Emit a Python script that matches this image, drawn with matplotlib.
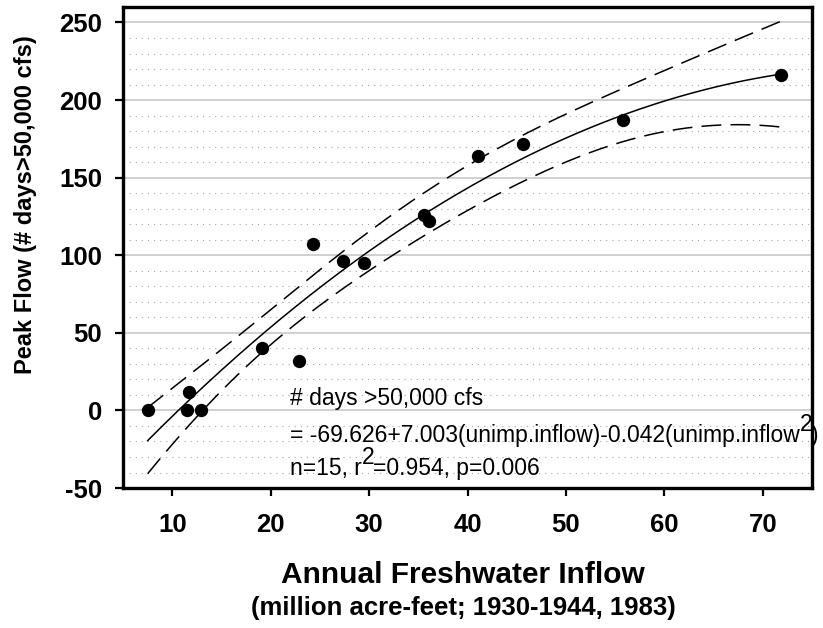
import numpy as np
import matplotlib
matplotlib.use("Agg")
import matplotlib.pyplot as plt
from matplotlib.ticker import MultipleLocator

plt.rcParams["font.family"] = ["Liberation Sans", "DejaVu Sans"]

# Annual unimpaired freshwater inflow (million acre-feet) vs. days above 50,000 cfs
inflow = [7.5, 11.7, 11.5, 12.9, 19.1, 22.9, 24.3, 27.3, 29.5, 35.6, 36.1, 41.1, 45.6, 55.8, 71.9]
peak_days = [0, 12, 0, 0, 40, 32, 107, 96, 95, 126, 122, 164, 172, 187, 216]

# Quadratic regression coefficients (intercept, linear, quadratic)
coef = [-69.626, 7.003, -0.042]
t_crit = 2.179  # two-sided 95%, 12 degrees of freedom

x_ticks = [10, 20, 30, 40, 50, 60, 70]
y_ticks = [-50, 0, 50, 100, 150, 200, 250]

x = np.asarray(inflow, dtype=float)
y = np.asarray(peak_days, dtype=float)


def quad(v):
    return coef[0] + coef[1] * v + coef[2] * v ** 2


# Confidence band for the mean response
X = np.column_stack([np.ones_like(x), x, x ** 2])
resid = y - quad(x)
s2 = np.sum(resid ** 2) / (len(x) - 3)
XtX_inv = np.linalg.inv(X.T @ X)
xs = np.linspace(x.min(), x.max(), 300)
Xs = np.column_stack([np.ones_like(xs), xs, xs ** 2])
se = np.sqrt(s2 * np.einsum("ij,jk,ik->i", Xs, XtX_inv, Xs))
fit = quad(xs)
upper = fit + t_crit * se
lower = fit - t_crit * se

fig = plt.figure(figsize=(8.23, 6.28), dpi=100)
ax = fig.add_axes([0.1495, 0.2229, 0.8371, 0.766])

ax.set_xlim(5, 75)
ax.set_ylim(-50, 260)

# Horizontal grid: solid at labelled values, dotted every 10
ax.yaxis.set_major_locator(plt.FixedLocator(y_ticks))
ax.yaxis.set_minor_locator(MultipleLocator(10))
ax.grid(axis="y", which="major", color="#c8c8c8", lw=1.2, zorder=0)
ax.grid(axis="y", which="minor", color="#a8a8a8", lw=0.8,
        linestyle=(0, (1, 4.5)), zorder=0)
ax.set_axisbelow(True)

ax.plot(xs, fit, color="black", lw=1.1, zorder=3)
ax.plot(xs, upper, color="black", lw=1.1, linestyle=(0, (13, 6)), zorder=3)
ax.plot(xs, lower, color="black", lw=1.1, linestyle=(0, (13, 6)), zorder=3)
ax.scatter(x, y, s=92, color="black", zorder=4, linewidths=0)

ax.set_xticks(x_ticks)
ax.set_xticklabels([str(v) for v in x_ticks])
ax.set_yticklabels([str(v) for v in y_ticks])
ax.tick_params(axis="both", which="major", direction="out", length=6,
               width=1.6, labelsize=18.5, color="black")
ax.tick_params(axis="x", pad=12)
ax.tick_params(axis="y", pad=9)
ax.tick_params(which="minor", length=0)
for lab in ax.get_xticklabels() + ax.get_yticklabels():
    lab.set_fontweight("bold")

for sp in ax.spines.values():
    sp.set_linewidth(2.4)
    sp.set_color("black")
    sp.set_zorder(5)

# Regression annotation
fs = 16.5
ax.text(22.0, 7.7, "# days >50,000 cfs", fontsize=fs, va="center", ha="left", zorder=2)

eq = ax.text(22.0, -16.1, "= -69.626+7.003(unimp.inflow)-0.042(unimp.inflow",
             fontsize=fs, va="center", ha="left", zorder=2)
sup1 = ax.annotate("2", xy=(1, 0.5), xycoords=eq, xytext=(-0.5, 7.5),
                   textcoords="offset points", fontsize=fs, va="center",
                   ha="left", zorder=2, annotation_clip=False)
ax.annotate(")", xy=(1, 0.5), xycoords=sup1, xytext=(-0.5, -7.5),
            textcoords="offset points", fontsize=fs, va="center",
            ha="left", zorder=2, annotation_clip=False)

st = ax.text(22.0, -37.3, "n=15, r", fontsize=fs, va="center", ha="left", zorder=2)
sup2 = ax.annotate("2", xy=(1, 0.5), xycoords=st, xytext=(-0.5, 7.5),
                   textcoords="offset points", fontsize=fs, va="center",
                   ha="left", zorder=2, annotation_clip=False)
ax.annotate("=0.954, p=0.006", xy=(1, 0.5), xycoords=sup2, xytext=(-0.5, -7.5),
            textcoords="offset points", fontsize=fs, va="center",
            ha="left", zorder=2, annotation_clip=False)

# Axis titles
fig.text(0.5626, 0.0844, "Annual Freshwater Inflow", fontsize=21.5,
         fontweight="bold", ha="center", va="center")
fig.text(0.5626, 0.0318, "(million acre-feet; 1930-1944, 1983)", fontsize=18.5,
         fontweight="bold", ha="center", va="center")
fig.text(0.0304, 0.6736, "Peak Flow (# days>50,000 cfs)", fontsize=17,
         fontweight="bold", ha="center", va="center", rotation=90)

fig.savefig("out.png", dpi=100)
